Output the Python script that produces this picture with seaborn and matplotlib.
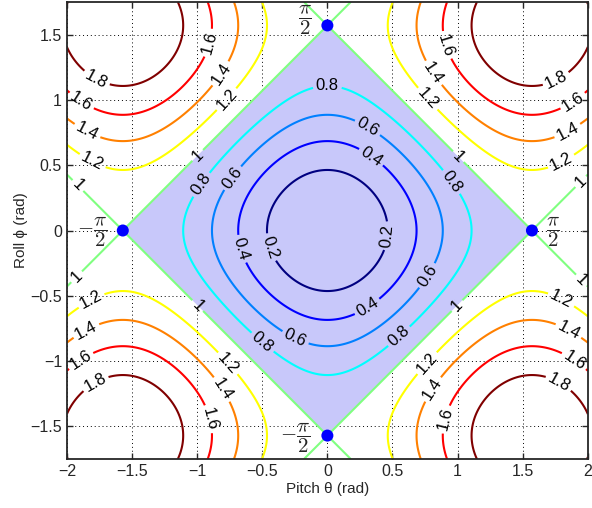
import numpy as np
import matplotlib
matplotlib.use("Agg")
import matplotlib.pyplot as plt
from matplotlib.ticker import FuncFormatter
import seaborn as sns

# Axes ranges (rad)
pitch_lim = [-2.0, 2.0]
roll_lim = [-1.75, 1.75]
x_ticks = [-2, -1.5, -1, -0.5, 0, 0.5, 1, 1.5, 2]
y_ticks = [-1.5, -1, -0.5, 0, 0.5, 1, 1.5]

# Contour levels of sin^2(pitch) + sin^2(roll)
levels = [0.2, 0.4, 0.6, 0.8, 1.0, 1.2, 1.4, 1.6, 1.8]

# Singular points (diamond vertices) and their labels
vertex_pitch = [np.pi / 2, 0, -np.pi / 2, 0]
vertex_roll = [0, np.pi / 2, 0, -np.pi / 2]
vertex_labels = [r'$\dfrac{\pi}{2}$', r'$\dfrac{\pi}{2}$',
                 r'$-\dfrac{\pi}{2}$', r'$-\dfrac{\pi}{2}$']

# where the contour labels sit (pitch, roll)
label_spots = [
    # outer left
    (-1.78, 1.15), (-1.91, 0.96), (-1.85, 0.75), (-1.81, 0.52), (-1.93, 0.33),
    (-1.81, -0.54), (-1.85, -0.77), (-1.89, -1.0), (-1.78, -1.17), (-1.93, -0.35),
    # outer right
    (1.76, 1.15), (1.88, 1.0), (1.84, 0.77), (1.80, 0.52), (1.96, 0.36),
    (1.77, -1.18), (1.88, -1.02), (1.84, -0.79), (1.79, -0.54), (1.96, -0.37),
    # centre top / bottom
    (-0.92, 1.44), (-0.83, 1.21), (-0.79, 1.02), (-1.0, 0.58),
    (0.88, 1.41), (0.79, 1.19), (0.76, 1.0), (1.0, 0.56),
    (-0.93, -1.45), (-0.83, -1.23), (-0.79, -1.04), (-1.0, -0.58),
    (0.92, -1.45), (0.8, -1.21), (0.77, -1.02), (1.0, -0.58),
    # inside the diamond
    (0.0, 1.09), (-0.98, 0.36), (0.95, 0.37), (-0.51, -0.87), (0.55, -0.81),
    (0.31, 0.79), (-0.74, 0.41), (0.79, -0.36), (-0.25, -0.83),
    (0.32, 0.54), (-0.69, -0.15), (0.31, -0.59),
    (-0.47, -0.14), (0.45, -0.04),
]

sns.set_style("ticks")
plt.rcParams['font.family'] = ['Liberation Sans', 'DejaVu Sans']
plt.rcParams['mathtext.fontset'] = 'cm'


def matlab_jet(t):
    r = np.clip(1.5 - abs(4 * t - 3), 0, 1)
    g = np.clip(1.5 - abs(4 * t - 2), 0, 1)
    b = np.clip(1.5 - abs(4 * t - 1), 0, 1)
    return (r, g, b)


level_colors = [matlab_jet((lv - levels[0]) / (levels[-1] - levels[0])) for lv in levels]

pitch = np.linspace(pitch_lim[0], pitch_lim[1], 801)
roll = np.linspace(roll_lim[0], roll_lim[1], 701)
P, R = np.meshgrid(pitch, roll)
Z = np.sin(P) ** 2 + np.sin(R) ** 2

fig = plt.figure(figsize=(5.92, 5.08), dpi=100)
ax = fig.add_axes([0.113, 0.0965, 0.880, 0.8995])

# shaded diamond |pitch| + |roll| <= pi/2
ax.fill(vertex_pitch, vertex_roll, color='#c8c8fa', zorder=1, lw=0)

cs = ax.contour(P, R, Z, levels=levels, colors=level_colors,
                linewidths=1.5, zorder=2)
ax.clabel(cs, fmt='%g', fontsize=12, colors='black', inline=True,
          inline_spacing=3, manual=label_spots)

sns.scatterplot(x=vertex_pitch, y=vertex_roll, color='blue', s=75,
                edgecolor='none', ax=ax, zorder=4)

offsets = [(0.11, -0.01, 'left', 'center'), (-0.12, 0.04, 'right', 'center'),
           (-0.12, -0.01, 'right', 'center'), (-0.13, -0.02, 'right', 'center')]
for px, py, lab, (dx, dy, ha, va) in zip(vertex_pitch, vertex_roll, vertex_labels, offsets):
    ax.text(px + dx, py + dy, lab, fontsize=15, ha=ha, va=va, zorder=5)

ax.set_xlim(pitch_lim)
ax.set_ylim(roll_lim)
ax.set_xticks(x_ticks)
ax.set_yticks(y_ticks)
fmt = FuncFormatter(lambda v, pos: ('%g' % v).replace('-', '\u2212'))
ax.xaxis.set_major_formatter(fmt)
ax.yaxis.set_major_formatter(fmt)
ax.grid(True, linestyle=(0, (1, 3)), color='black', linewidth=0.7)
ax.tick_params(direction='in', top=True, right=True, labelsize=11.5,
               length=4, width=1)
for s in ax.spines.values():
    s.set_linewidth(1.3)
    s.set_visible(True)
ax.set_xlabel('Pitch θ (rad)', fontsize=11, labelpad=2)
ax.set_ylabel('Roll ϕ (rad)', fontsize=11, labelpad=2)

fig.savefig('out.png', dpi=100)
